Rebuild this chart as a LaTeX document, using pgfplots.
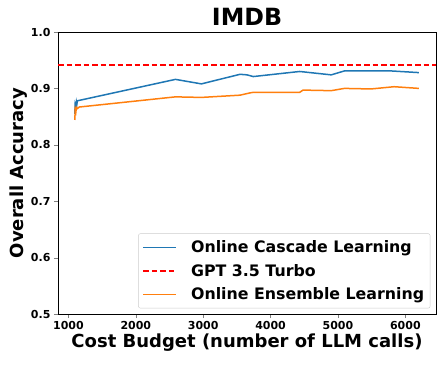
\documentclass[border=0pt]{standalone}
\usepackage{fontspec}
\setmainfont{DejaVu Sans}
\usepackage{pgfplots}
\pgfplotsset{compat=1.18}
\definecolor{mplblue}{HTML}{1F77B4}
\definecolor{mplorange}{HTML}{FF7F0E}
\pgfplotsset{
  legend image code/.code={\draw[#1] (0pt,0pt) -- (33pt,0pt); \path (45pt,0pt);},
}
\begin{document}
\begin{tikzpicture}
\begin{axis}[
  scale only axis,
  width=378pt, height=282pt,
  xmin=845, xmax=6455,
  ymin=0.5, ymax=1.0,
  xtick={1000,2000,3000,4000,5000,6000},
  ytick={0.5,0.6,0.7,0.8,0.9,1.0},
  yticklabel style={/pgf/number format/.cd,fixed,fixed zerofill,precision=1},
  /pgf/number format/assume math mode=true,
  scaled x ticks=false,
  xticklabel={\pgfmathprintnumber[1000 sep={}]{\tick}},
  tick label style={font=\fontsize{11}{12}\selectfont\bfseries},
  tick align=outside, tick pos=left,
  major tick length=4pt,
  axis line style={line width=0.8pt},
  title={\fontsize{23.7}{25}\selectfont\bfseries IMDB},
  title style={yshift=-3pt},
  xlabel={\fontsize{18}{20}\selectfont\bfseries Cost Budget (number of LLM calls)},
  ylabel={\fontsize{18}{20}\selectfont\bfseries Overall Accuracy},
  xlabel style={yshift=3pt},
  ylabel style={yshift=-3pt},
  legend style={at={(0.985,0.02)}, anchor=south east,
    font=\fontsize{15.8}{18}\selectfont\bfseries,
    draw=black!20, rounded corners=2pt, row sep=6pt,
    inner xsep=4pt, inner ysep=5pt},
  legend cell align=left,
]
\addplot[mplblue, line width=1.5pt] coordinates {
  (1095,0.855) (1100,0.872) (1110,0.868) (1118,0.876) (1125,0.872) (1132,0.878)
  (2588,0.916) (2973,0.908) (3547,0.925) (3650,0.924) (3743,0.921)
  (4432,0.930) (4900,0.924) (5096,0.931) (5783,0.931) (6201,0.928)
};
\addlegendentry{Online Cascade Learning}
\addplot[red, line width=1.7pt, dash pattern=on 5.5pt off 3pt] coordinates {
  (845,0.942) (6455,0.942)
};
\addlegendentry{GPT 3.5 Turbo}
\addplot[mplorange, line width=1.5pt] coordinates {
  (1095,0.844) (1100,0.862) (1110,0.858) (1118,0.866) (1128,0.864) (1162,0.867)
  (2588,0.885) (2973,0.884) (3547,0.888) (3693,0.892) (3743,0.893)
  (4432,0.893) (4481,0.897) (4900,0.896) (5096,0.900) (5490,0.899)
  (5833,0.903) (6201,0.900)
};
\addlegendentry{Online Ensemble Learning}
\end{axis}
\path (current axis.south west) ++(-58pt,-50pt);
\path (current axis.north east) ++(10pt,32pt);
\end{tikzpicture}
\end{document}
